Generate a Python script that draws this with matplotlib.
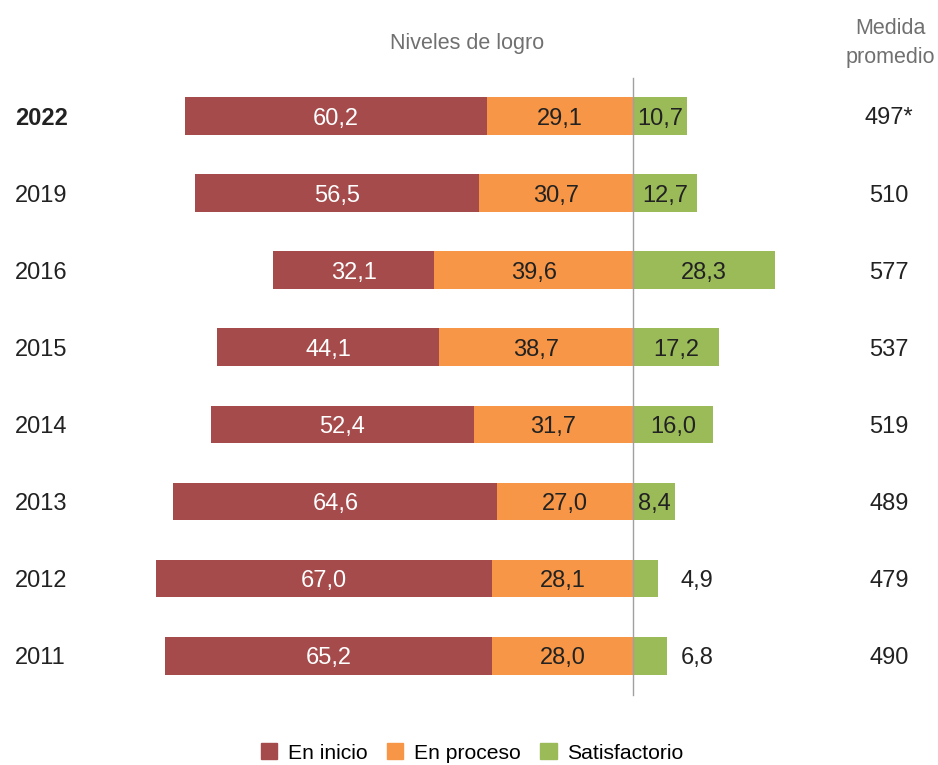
import matplotlib
matplotlib.use("Agg")
import matplotlib.pyplot as plt
from matplotlib.patches import Patch

plt.rcParams['font.family'] = ['Liberation Sans', 'DejaVu Sans']

years = ["2022", "2019", "2016", "2015", "2014", "2013", "2012", "2011"]
en_inicio = [60.2, 56.5, 32.1, 44.1, 52.4, 64.6, 67.0, 65.2]
en_proceso = [29.1, 30.7, 39.6, 38.7, 31.7, 27.0, 28.1, 28.0]
satisfactorio = [10.7, 12.7, 28.3, 17.2, 16.0, 8.4, 4.9, 6.8]
medida = ["497*", "510", "577", "537", "519", "489", "479", "490"]

c_ini = "#A54B4B"
c_pro = "#F79646"
c_sat = "#9BBB59"

W, H = 938, 765
fig = plt.figure(figsize=(W / 100, H / 100), dpi=100)
ax = fig.add_axes([0, 0, 1, 1])
pxu = 5.02  # pixels per unit
x0 = 633
ax.set_xlim(-x0 / pxu, (W - x0) / pxu)
y0, dy = 116, 77.1
ax.set_ylim((H - y0) / dy, -y0 / dy)
ax.axis("off")

def fmt(v):
    return f"{v:.1f}".replace(".", ",")

fs = 17
h = 0.49
off = 2.5 / dy
for i, yr in enumerate(years):
    ini, pro, sat = en_inicio[i], en_proceso[i], satisfactorio[i]
    ax.barh(i, -ini, left=-pro, height=h, color=c_ini, edgecolor="none")
    ax.barh(i, -pro, left=0, height=h, color=c_pro, edgecolor="none")
    ax.barh(i, sat, left=0, height=h, color=c_sat, edgecolor="none")
    ty = i + off
    ax.text(-pro - ini / 2, ty, fmt(ini), ha="center", va="center",
            color="white", fontsize=fs)
    ax.text(-pro / 2, ty, fmt(pro), ha="center", va="center",
            color="#222222", fontsize=fs)
    if sat >= 8:
        ax.text(sat / 2, ty, fmt(sat), ha="center", va="center",
                color="#222222", fontsize=fs)
    else:
        ax.text(12.8, ty, fmt(sat), ha="center", va="center",
                color="#222222", fontsize=fs)
    ax.text(-126.1 + 15 / pxu, ty, yr, ha="left", va="center",
            color="#222222", fontsize=fs,
            fontweight="bold" if i == 0 else "normal")
    ax.text((889 - x0) / pxu, ty, medida[i], ha="center", va="center",
            color="#222222", fontsize=fs)

ax.plot([0, 0], [(78 - y0) / dy, (695 - y0) / dy], color="#A0A0A0", lw=1)

ax.text((467 - x0) / pxu, (43 - y0) / dy, "Niveles de logro", ha="center",
        va="center", color="#707070", fontsize=15.5)
ax.text((890 - x0) / pxu, (43 - y0) / dy, "Medida\npromedio", ha="center",
        va="center", color="#707070", fontsize=15.5, linespacing=1.45)

handles = [Patch(color=c_ini, label="En inicio"),
           Patch(color=c_pro, label="En proceso"),
           Patch(color=c_sat, label="Satisfactorio")]
fig.legend(handles=handles, loc="center", bbox_to_anchor=(472 / W, 1 - 753 / H),
           ncol=3, frameon=False, fontsize=15.2, handlelength=0.8,
           handleheight=0.8, handletextpad=0.5, columnspacing=0.9)

fig.savefig("out.png", dpi=100, facecolor="white")
